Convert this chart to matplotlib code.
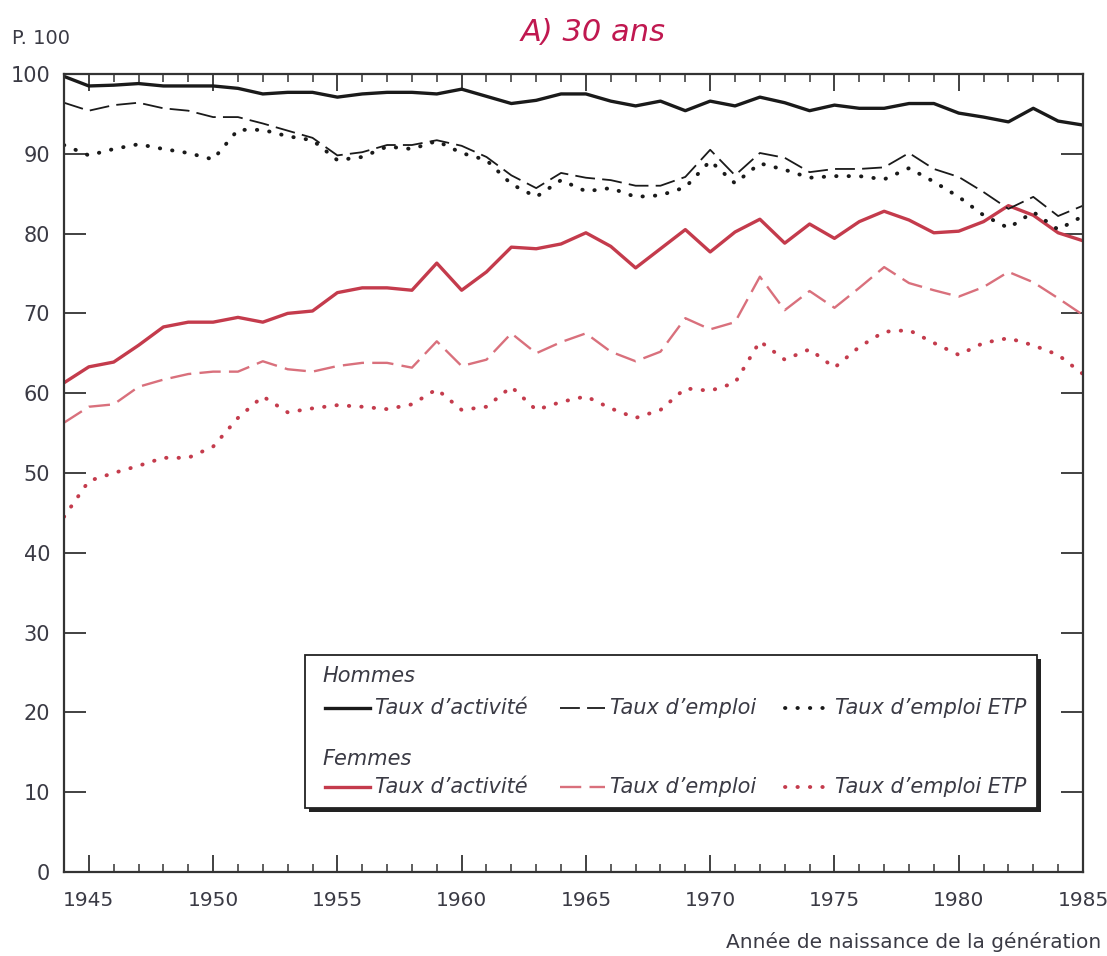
import matplotlib
matplotlib.use("Agg")
import matplotlib.pyplot as plt
from matplotlib.lines import Line2D
from matplotlib.patches import Rectangle
from matplotlib.ticker import MultipleLocator

plt.rcParams['font.family'] = ['DejaVu Sans']

years = list(range(1944, 1986))

h_activite = [99.7, 98.5, 98.6, 98.8, 98.5, 98.5, 98.5, 98.2, 97.5, 97.7, 97.7, 97.1, 97.5, 97.7,
              97.7, 97.5, 98.1, 97.2, 96.3, 96.7, 97.5, 97.5, 96.6, 96.0, 96.6, 95.4, 96.6, 96.0,
              97.1, 96.4, 95.4, 96.1, 95.7, 95.7, 96.3, 96.3, 95.1, 94.6, 94.0, 95.7, 94.1, 93.6]
h_emploi = [96.4, 95.4, 96.1, 96.4, 95.7, 95.4, 94.6, 94.6, 93.8, 92.9, 92.0, 89.8, 90.2, 91.1,
            91.1, 91.7, 91.0, 89.6, 87.3, 85.7, 87.6, 87.0, 86.7, 86.0, 86.0, 87.1, 90.5, 87.3,
            90.1, 89.5, 87.7, 88.1, 88.1, 88.3, 90.1, 88.1, 87.1, 85.2, 83.1, 84.6, 82.2, 83.5]
h_etp = [91.1, 89.8, 90.6, 91.2, 90.6, 90.1, 89.3, 93.0, 93.0, 92.2, 91.7, 89.2, 89.6, 90.9,
         90.6, 91.6, 90.1, 89.2, 86.2, 84.6, 86.7, 85.3, 85.7, 84.6, 84.8, 85.8, 89.1, 86.3,
         88.8, 88.0, 87.0, 87.2, 87.2, 86.8, 88.2, 86.5, 84.6, 82.3, 80.7, 82.7, 80.5, 82.2]
f_activite = [61.3, 63.3, 63.9, 66.0, 68.3, 68.9, 68.9, 69.5, 68.9, 70.0, 70.3, 72.6, 73.2, 73.2,
              72.9, 76.3, 72.9, 75.2, 78.3, 78.1, 78.7, 80.1, 78.4, 75.7, 78.1, 80.5, 77.7, 80.2,
              81.8, 78.8, 81.2, 79.4, 81.5, 82.8, 81.7, 80.1, 80.3, 81.5, 83.5, 82.3, 80.1, 79.1]
f_emploi = [56.3, 58.3, 58.6, 60.8, 61.7, 62.4, 62.7, 62.7, 64.0, 63.0, 62.7, 63.4, 63.8, 63.8,
            63.2, 66.5, 63.4, 64.2, 67.5, 65.0, 66.4, 67.5, 65.2, 64.0, 65.2, 69.4, 68.0, 68.9,
            74.6, 70.4, 72.8, 70.7, 73.2, 75.8, 73.8, 72.9, 72.1, 73.3, 75.2, 73.9, 71.9, 69.8]
f_etp = [44.5, 49.0, 50.0, 50.9, 51.9, 51.9, 53.3, 56.9, 59.6, 57.6, 58.1, 58.5, 58.3, 58.0,
         58.6, 60.5, 57.9, 58.3, 60.8, 57.9, 58.9, 59.6, 58.1, 56.9, 57.9, 60.6, 60.3, 61.3,
         66.5, 64.2, 65.5, 63.2, 65.8, 67.7, 67.9, 66.3, 64.8, 66.3, 66.9, 66.0, 64.8, 62.4]

labels = ["Taux d\u2019activit\u00e9", "Taux d\u2019emploi", "Taux d\u2019emploi ETP"]
groups = ["Hommes", "Femmes"]

BLACK = "#1a1a1a"
RED = "#c43b4c"
RED_LIGHT = "#d9707c"
TITLE_COLOR = "#c01850"
TXT = "#3a3a44"

fig = plt.figure(figsize=(11.07, 9.56), dpi=100)
ax = fig.add_axes([0.0578, 0.0879, 0.9205, 0.8347])

styles_h = [
    dict(color=BLACK, lw=2.4, ls='-'),
    dict(color=BLACK, lw=1.3, ls=(0, (11, 4))),
    dict(color=BLACK, lw=2.8, ls=(0, (0.1, 3.1)), dash_capstyle='round'),
]
styles_f = [
    dict(color=RED, lw=2.4, ls='-'),
    dict(color=RED_LIGHT, lw=1.7, ls=(0, (9, 3.5))),
    dict(color=RED, lw=2.8, ls=(0, (0.1, 3.1)), dash_capstyle='round'),
]

for s, d in zip(styles_f, [f_activite, f_emploi, f_etp]):
    ax.plot(years, d, **s)
for s, d in zip(styles_h, [h_activite, h_emploi, h_etp]):
    ax.plot(years, d, **s)

ax.set_xlim(1944, 1985)
ax.set_ylim(0, 100)
ax.xaxis.set_major_locator(MultipleLocator(5))
ax.xaxis.set_minor_locator(MultipleLocator(1))
ax.yaxis.set_major_locator(MultipleLocator(10))
ax.tick_params(axis='x', which='major', direction='in', length=12, width=1.3,
               top=True, bottom=True, labelsize=14.5, pad=14, colors='#333333', labelcolor=TXT)
ax.tick_params(axis='x', which='minor', direction='in', length=6, width=1.1,
               top=True, bottom=True, colors='#333333')
ax.tick_params(axis='y', which='major', direction='in', length=16, width=1.3,
               left=True, right=True, labelsize=15, pad=10, colors='#333333', labelcolor=TXT)
for sp in ax.spines.values():
    sp.set_color('#333333')
    sp.set_linewidth(1.6)
# keep the last x label inside the canvas
ax.get_xticklabels()
for lbl in ax.xaxis.get_majorticklabels():
    pass

ax.text(1.018, -0.088, "Ann\u00e9e de naissance de la g\u00e9n\u00e9ration", transform=ax.transAxes,
        ha='right', va='center', fontsize=14.5, color=TXT)
fig.text(0.011, 0.960, "P. 100", ha='left', va='center', fontsize=14, color=TXT)
fig.text(0.536, 0.966, "A) 30 ans", ha='center', va='center', fontsize=22,
         style='italic', color=TITLE_COLOR)

# Legend box with shadow
bx0, bx1, by0, by1 = 0.2365, 0.955, 0.080, 0.272
shadow = Rectangle((bx0 + 0.004, by0 - 0.005), bx1 - bx0, by1 - by0, transform=ax.transAxes,
                   facecolor='#222222', edgecolor='none', zorder=5)
box = Rectangle((bx0, by0), bx1 - bx0, by1 - by0, transform=ax.transAxes,
                facecolor='white', edgecolor='#222222', lw=1.3, zorder=6)
ax.add_patch(shadow)
ax.add_patch(box)

hdr_y = [0.245, 0.142]
row_y = [0.205, 0.106]
col_x = [0.256, 0.487, 0.708]
line_len = 0.044
for g, (gname, sty) in enumerate(zip(groups, [styles_h, styles_f])):
    ax.text(0.254, hdr_y[g], gname, transform=ax.transAxes, ha='left', va='center',
            fontsize=15, style='italic', color=TXT, zorder=7)
    for c in range(3):
        ax.add_line(Line2D([col_x[c], col_x[c] + line_len], [row_y[g], row_y[g]],
                           transform=ax.transAxes, zorder=7, **sty[c]))
        ax.text(col_x[c] + line_len + 0.005, row_y[g], labels[c], transform=ax.transAxes,
                ha='left', va='center', fontsize=15, style='italic', color=TXT, zorder=7)

fig.savefig("out.png", dpi=100)
